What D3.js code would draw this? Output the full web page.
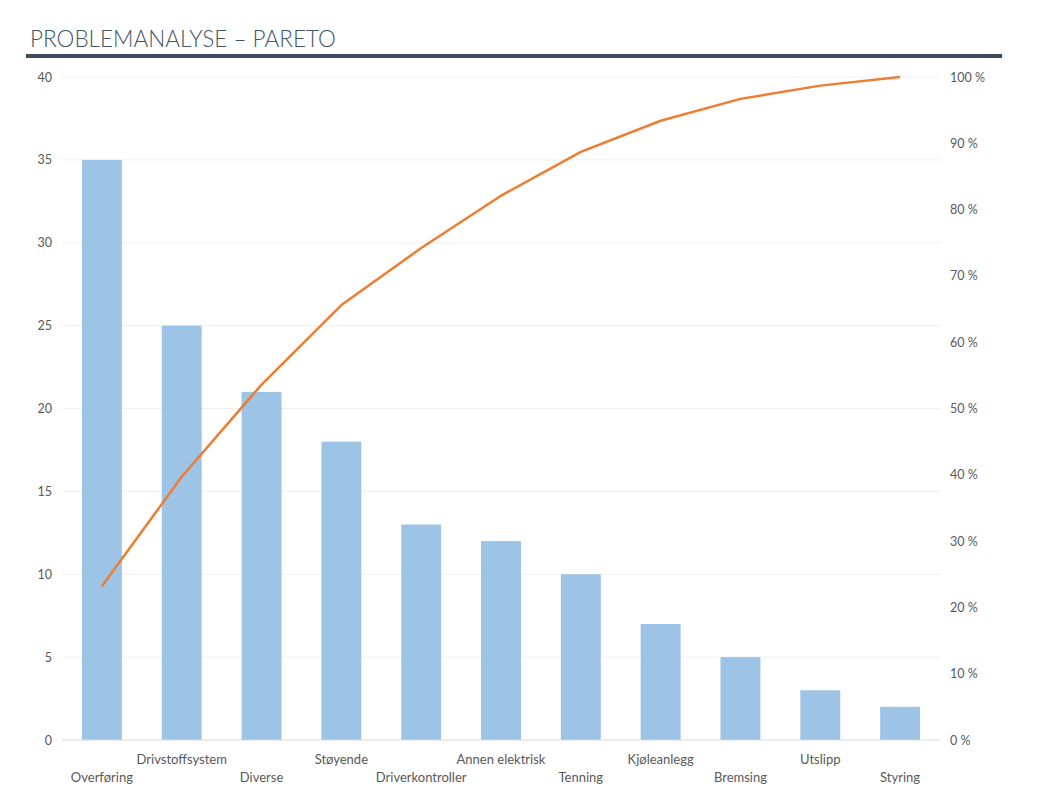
<!DOCTYPE html>
<html>
<head>
<meta charset="utf-8">
<script src="https://cdn.jsdelivr.net/npm/d3@7"></script>
<style>
  body { margin: 0; background: #fff; }
  svg { display: block; font-family: Lato, "Open Sans", sans-serif; }
</style>
</head>
<body>
<div id="chart"></div>
<script>
// Problem categories (sorted by count)
const categories = ['Overføring', 'Drivstoffsystem', 'Diverse', 'Støyende', 'Driverkontroller',
    'Annen elektrisk', 'Tenning', 'Kjøleanlegg', 'Bremsing', 'Utslipp', 'Styring'];
const counts = [35, 25, 21, 18, 13, 12, 10, 7, 5, 3, 2];
// Cumulative share in percent
const cumulative = [23.2, 39.7, 53.6, 65.6, 74.2, 82.1, 88.7, 93.4, 96.7, 98.7, 100];
const leftTicks = [0, 5, 10, 15, 20, 25, 30, 35, 40];
const rightTicks = [0, 10, 20, 30, 40, 50, 60, 70, 80, 90, 100];

const width = 1038, height = 800;
const margin = { top: 77, right: 98, bottom: 60, left: 62 };
const chartWidth = width - margin.left - margin.right;
const chartHeight = height - margin.top - margin.bottom;

const svg = d3.select('#chart').append('svg')
    .attr('width', width)
    .attr('height', height);

// title + heavy rule under it
svg.append('text')
    .attr('x', 30)
    .attr('y', 47)
    .style('fill', '#44546a')
    .style('font-size', '22.5px')
    .style('font-weight', '300')
    .text('PROBLEMANALYSE – PARETO');

svg.append('rect')
    .attr('x', 26)
    .attr('y', 54)
    .attr('width', 976)
    .attr('height', 4)
    .attr('fill', '#3b4b5d');

const g = svg.append('g')
    .attr('transform', 'translate(' + margin.left + ',' + margin.top + ')');

const x = d3.scaleBand()
    .domain(categories)
    .range([0, chartWidth])
    .paddingInner(0.5)
    .paddingOuter(0.25);

const y = d3.scaleLinear()
    .domain([0, 40])
    .range([chartHeight, 0]);

const yPct = d3.scaleLinear()
    .domain([0, 100])
    .range([chartHeight, 0]);

// gridlines
g.append('g')
    .selectAll('line')
    .data(leftTicks.filter(d => d > 0))
    .enter()
    .append('line')
    .attr('x1', 0)
    .attr('x2', chartWidth)
    .attr('y1', d => y(d))
    .attr('y2', d => y(d))
    .attr('stroke', '#efefef')
    .attr('stroke-width', 1);

// left axis
const yAxis = d3.axisLeft(y).tickValues(leftTicks).tickSize(0).tickPadding(10);
g.append('g')
    .attr('class', 'y-axis')
    .call(yAxis)
    .call(sel => sel.select('.domain').remove())
    .selectAll('text')
    .style('fill', '#595959')
    .style('font-size', '12.5px')
    .style('font-family', 'Lato, sans-serif');

// right axis
const yAxisRight = d3.axisRight(yPct).tickValues(rightTicks).tickSize(0).tickPadding(10)
    .tickFormat(d => d + ' %');
g.append('g')
    .attr('class', 'y-axis-right')
    .attr('transform', 'translate(' + chartWidth + ',0)')
    .call(yAxisRight)
    .call(sel => sel.select('.domain').remove())
    .selectAll('text')
    .style('fill', '#595959')
    .style('font-size', '12.5px')
    .style('font-family', 'Lato, sans-serif');

// bars
g.selectAll('.bar')
    .data(categories)
    .enter()
    .append('rect')
    .attr('class', 'bar')
    .attr('x', d => x(d))
    .attr('y', (d, i) => y(counts[i]))
    .attr('width', x.bandwidth())
    .attr('height', (d, i) => chartHeight - y(counts[i]))
    .attr('fill', '#9dc3e6');

// baseline
g.append('line')
    .attr('x1', 0)
    .attr('x2', chartWidth)
    .attr('y1', chartHeight)
    .attr('y2', chartHeight)
    .attr('stroke', '#d9d9d9')
    .attr('stroke-width', 1);

// staggered category labels
g.selectAll('.cat-label')
    .data(categories)
    .enter()
    .append('text')
    .attr('class', 'cat-label')
    .attr('x', d => x(d) + x.bandwidth() / 2)
    .attr('y', (d, i) => chartHeight + (i % 2 === 0 ? 42 : 24))
    .attr('text-anchor', 'middle')
    .style('fill', '#595959')
    .style('font-size', '13px')
    .text(d => d);

// cumulative line
const line = d3.line()
    .x((d, i) => x(categories[i]) + x.bandwidth() / 2)
    .y(d => yPct(d));

g.append('path')
    .datum(cumulative)
    .attr('d', line)
    .attr('fill', 'none')
    .attr('stroke', '#ed7d31')
    .attr('stroke-width', 2.5)
    .attr('stroke-linejoin', 'round');
</script>
</body>
</html>
